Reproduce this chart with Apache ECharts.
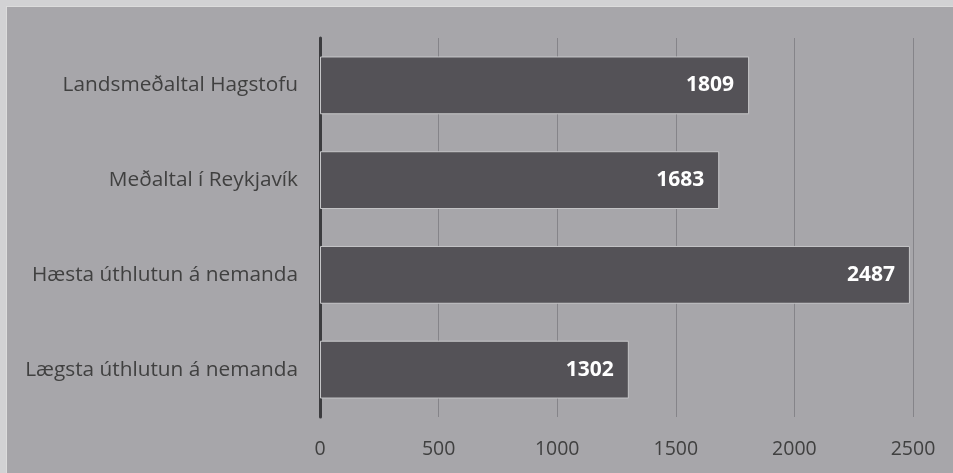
<!DOCTYPE html>
<html><head><meta charset="utf-8">
<script src="https://cdn.jsdelivr.net/npm/echarts@6/dist/echarts.min.js"></script>
<style>
html,body{margin:0;padding:0;background:#d2d2d4;width:953px;height:473px;overflow:hidden;}
#c{position:absolute;left:6px;top:6px;width:947px;height:467px;background:#a7a6aa;border-top:1px solid #dcdcdc;border-left:1px solid #dcdcdc;box-sizing:border-box;}
</style></head><body>
<div id="c"></div>
<script>
const categories = ['Lægsta úthlutun á nemanda','Hæsta úthlutun á nemanda','Meðaltal í Reykjavík','Landsmeðaltal Hagstofu'];
const values = [1302, 2487, 1683, 1809];
const xTicks = [0, 500, 1000, 1500, 2000, 2500];
const chart = echarts.init(document.getElementById('c'), null, {renderer:'canvas'});
chart.setOption({
  animation:false,
  grid:{left:313,right:40,top:31,bottom:56,containLabel:false},
  xAxis:{type:'value',min:xTicks[0],max:xTicks[xTicks.length-1],interval:500,
    axisLine:{show:false},axisTick:{show:false},
    splitLine:{show:true,lineStyle:{color:'#858489',width:1}},
    axisLabel:{color:'#404040',fontFamily:'Open Sans',fontSize:19.5,margin:22,
      formatter:function(v){return String(v);}}},
  yAxis:{type:'category',data:categories,
    axisLine:{show:true,lineStyle:{color:'#3c3c3f',width:3}},
    axisTick:{show:false},
    axisLabel:{color:'#404040',fontFamily:'Open Sans',fontSize:20.8,margin:22}},
  series:[{type:'bar',data:values,barCategoryGap:'39%',
    itemStyle:{color:'#545257',borderColor:'#c6c6c8',borderWidth:1},
    label:{show:true,position:'insideRight',distance:15,color:'#ffffff',fontFamily:'Open Sans',fontWeight:'bold',fontSize:21}}]
});
</script></body></html>
